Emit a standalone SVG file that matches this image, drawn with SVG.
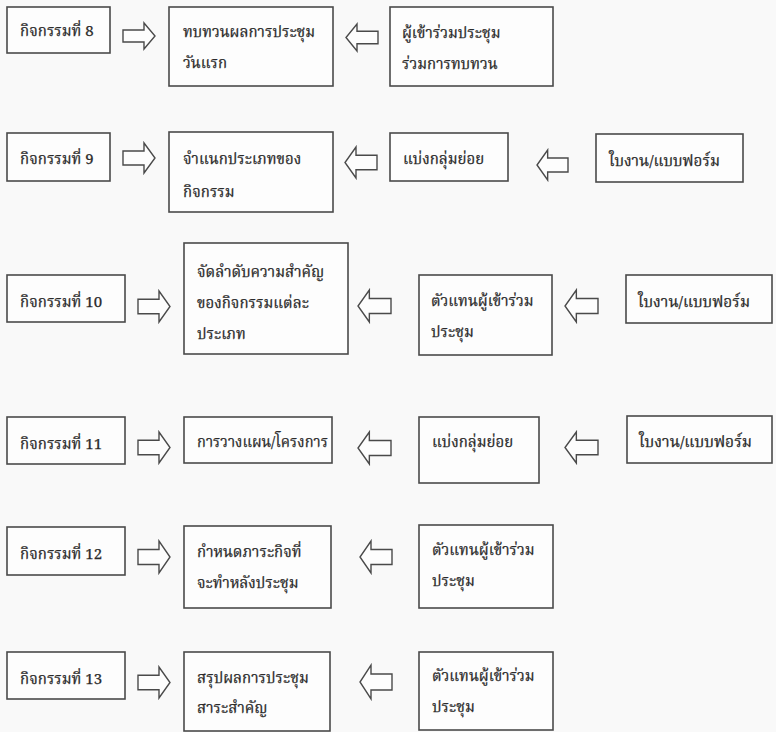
<svg xmlns="http://www.w3.org/2000/svg" xmlns:xlink="http://www.w3.org/1999/xlink" width="776" height="732" viewBox="0 0 776 732">
<style>
.bx{fill:#fdfdfd;stroke:#4a4a4a;stroke-width:1.6}
.t{font-family:'Noto Serif Thai','Noto Sans Thai','Liberation Serif','DejaVu Serif',serif;font-size:15px;fill:#2a2a2a;stroke:#2a2a2a;stroke-width:0.25}
.ar{fill:#fdfdfd;stroke:#4a4a4a;stroke-width:1.4}
</style>
<defs>
<symbol id="aR" viewBox="0 0 32 30" preserveAspectRatio="none" overflow="visible"><path class="ar" vector-effect="non-scaling-stroke" d="M0,8 H21 V0 L32,15 L21,30 V22 H0 Z"/></symbol>
<symbol id="aL" viewBox="0 0 32 30" preserveAspectRatio="none" overflow="visible"><path class="ar" vector-effect="non-scaling-stroke" d="M32,8 H11 V0 L0,15 L11,30 V22 H32 Z"/></symbol>
</defs>
<rect width="776" height="732" fill="#f9f9f9"/>
<g id="connectors">
<use xlink:href="#aR" x="123" y="23" width="32" height="26"/>
<use xlink:href="#aL" x="346" y="24" width="32" height="27"/>
<use xlink:href="#aR" x="123" y="143" width="32" height="30"/>
<use xlink:href="#aL" x="345" y="147" width="32" height="31"/>
<use xlink:href="#aL" x="537" y="150" width="31" height="30"/>
<use xlink:href="#aR" x="138" y="291" width="32" height="31"/>
<use xlink:href="#aL" x="358" y="290" width="33" height="32"/>
<use xlink:href="#aL" x="565" y="290" width="33" height="32"/>
<use xlink:href="#aR" x="138" y="432" width="32" height="31"/>
<use xlink:href="#aL" x="358" y="432" width="33" height="32"/>
<use xlink:href="#aL" x="565" y="432" width="33" height="31"/>
<use xlink:href="#aR" x="138" y="541" width="32" height="32"/>
<use xlink:href="#aL" x="360" y="541" width="32" height="32"/>
<use xlink:href="#aR" x="138" y="667" width="32" height="31"/>
<use xlink:href="#aL" x="360" y="665" width="32" height="34"/>
</g>
<g id="act8"><rect class="bx" x="7" y="7" width="103" height="46"/><text class="t" x="20" y="36">กิจกรรมที่ 8</text></g>
<g id="review"><rect class="bx" x="169" y="7" width="164" height="79"/><text class="t" x="183" y="37">ทบทวนผลการประชุม</text><text class="t" x="183" y="68">วันแรก</text></g>
<g id="participants8"><rect class="bx" x="390" y="7" width="163" height="79"/><text class="t" x="402" y="38">ผู้เข้าร่วมประชุม</text><text class="t" x="402" y="69">ร่วมการทบทวน</text></g>
<g id="act9"><rect class="bx" x="7" y="133" width="103" height="48"/><text class="t" x="20" y="164">กิจกรรมที่ 9</text></g>
<g id="classify"><rect class="bx" x="169" y="132" width="164" height="80"/><text class="t" x="183" y="164">จำแนกประเภทของ</text><text class="t" x="183" y="197">กิจกรรม</text></g>
<g id="groups9"><rect class="bx" x="390" y="133" width="118" height="48"/><text class="t" x="403" y="164">แบ่งกลุ่มย่อย</text></g>
<g id="form9"><rect class="bx" x="596" y="134" width="147" height="48"/><text class="t" x="609" y="166" textLength="111" lengthAdjust="spacingAndGlyphs">ใบงาน/แบบฟอร์ม</text></g>
<g id="act10"><rect class="bx" x="7" y="275" width="118" height="47"/><text class="t" x="20" y="307">กิจกรรมที่ 10</text></g>
<g id="prioritize"><rect class="bx" x="184" y="243" width="164" height="111"/><text class="t" x="197" y="277">จัดลำดับความสำคัญ</text><text class="t" x="197" y="308">ของกิจกรรมแต่ละ</text><text class="t" x="197" y="339">ประเภท</text></g>
<g id="reps10"><rect class="bx" x="419" y="275" width="133" height="80"/><text class="t" x="431" y="306">ตัวแทนผู้เข้าร่วม</text><text class="t" x="431" y="337">ประชุม</text></g>
<g id="form10"><rect class="bx" x="626" y="275" width="146" height="48"/><text class="t" x="638" y="307" textLength="112" lengthAdjust="spacingAndGlyphs">ใบงาน/แบบฟอร์ม</text></g>
<g id="act11"><rect class="bx" x="7" y="417" width="118" height="47"/><text class="t" x="20" y="449">กิจกรรมที่ 11</text></g>
<g id="planning"><rect class="bx" x="184" y="417" width="148" height="46"/><text class="t" x="197" y="447" textLength="131" lengthAdjust="spacingAndGlyphs">การวางแผน/โครงการ</text></g>
<g id="groups11"><rect class="bx" x="419" y="417" width="120" height="66"/><text class="t" x="432" y="447">แบ่งกลุ่มย่อย</text></g>
<g id="form11"><rect class="bx" x="627" y="416" width="145" height="47"/><text class="t" x="639" y="447" textLength="113" lengthAdjust="spacingAndGlyphs">ใบงาน/แบบฟอร์ม</text></g>
<g id="act12"><rect class="bx" x="7" y="527" width="118" height="48"/><text class="t" x="20" y="559">กิจกรรมที่ 12</text></g>
<g id="tasks"><rect class="bx" x="184" y="526" width="147" height="82"/><text class="t" x="197" y="557">กำหนดภาระกิจที่</text><text class="t" x="197" y="588">จะทำหลังประชุม</text></g>
<g id="reps12"><rect class="bx" x="419" y="525" width="134" height="83"/><text class="t" x="432" y="555">ตัวแทนผู้เข้าร่วม</text><text class="t" x="432" y="586">ประชุม</text></g>
<g id="act13"><rect class="bx" x="7" y="652" width="118" height="47"/><text class="t" x="20" y="684">กิจกรรมที่ 13</text></g>
<g id="summary"><rect class="bx" x="184" y="652" width="146" height="79"/><text class="t" x="197" y="683">สรุปผลการประชุม</text><text class="t" x="197" y="713">สาระสำคัญ</text></g>
<g id="reps13"><rect class="bx" x="419" y="652" width="134" height="78"/><text class="t" x="432" y="681">ตัวแทนผู้เข้าร่วม</text><text class="t" x="432" y="712">ประชุม</text></g>
</svg>
